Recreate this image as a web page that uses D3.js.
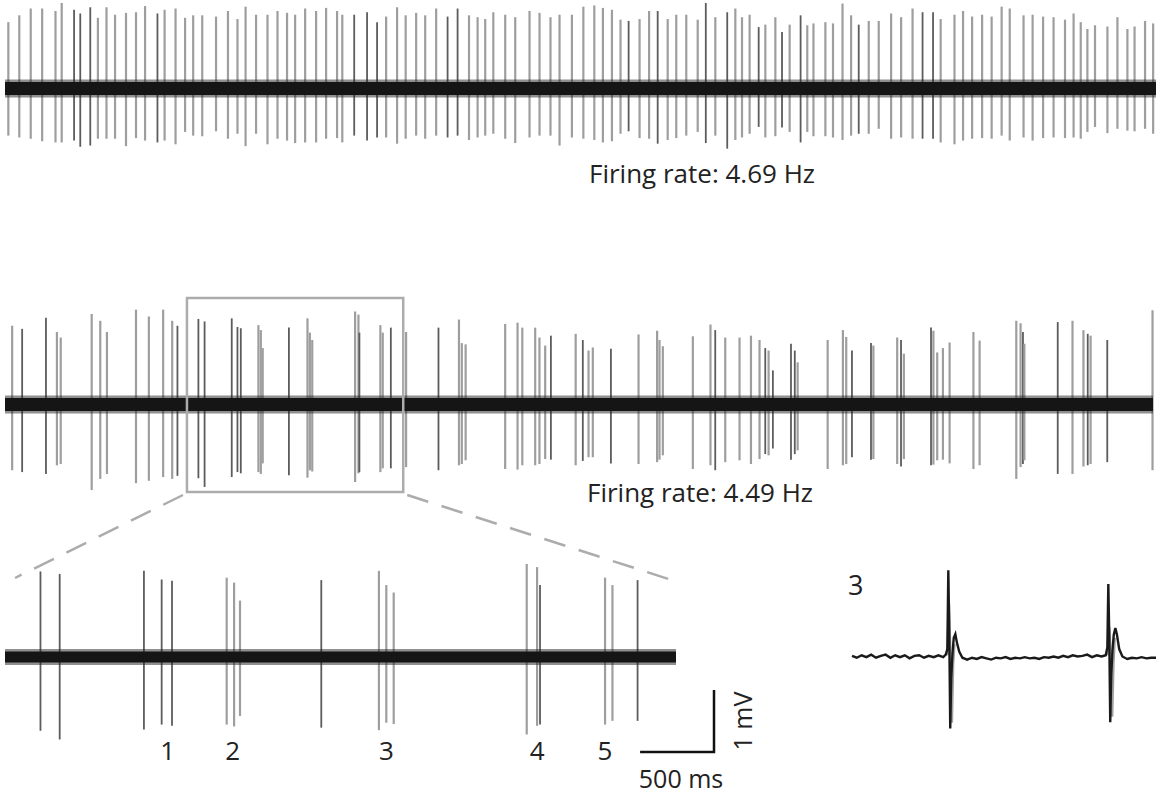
<!DOCTYPE html>
<html>
<head>
<meta charset="utf-8">
<script src="https://cdn.jsdelivr.net/npm/d3@7"></script>
<style>
  body { margin: 0; background: #fff; }
  text { font-family: "Open Sans", "Noto Sans", sans-serif; fill: #222; }
</style>
</head>
<body>
<div id="my_dataviz"></div>
<script>
// ---- recording 1 (regular firing) : spike time (s), peak (mV), trough (mV), unit
var topTimes = [0.07,0.30,0.54,0.78,1.06,1.19,1.45,1.58,1.79,1.95,2.13,2.31,2.54,2.75,2.94,3.20,3.35,3.58,3.78,3.95,
  4.14,4.43,4.68,4.88,5.05,5.27,5.51,5.72,5.92,6.09,6.30,6.53,6.74,6.97,7.08,7.33,7.60,7.81,8.00,8.23,
  8.41,8.63,8.82,9.05,9.29,9.50,9.74,9.92,10.08,10.25,10.50,10.71,11.01,11.22,11.45,11.64,11.90,12.14,12.37,12.55,
  12.74,12.92,13.09,13.32,13.52,13.70,13.91,14.09,14.30,14.54,14.71,14.91,15.16,15.33,15.47,15.63,15.82,15.96,16.17,16.31,
  16.47,16.70,16.84,16.97,17.22,17.38,17.58,17.76,17.92,18.13,18.34,18.60,18.81,19.05,19.26,19.48,19.64,19.93,20.11,20.30,
  20.51,20.71,20.92,21.09,21.38,21.57,21.79,22.01,22.25,22.43,22.58,22.72,22.88,23.14,23.35,23.56,23.71,23.93,24.10];
var topUp = [1.07,1.18,1.29,1.29,1.25,1.38,1.27,1.21,1.31,1.14,1.31,1.19,1.22,1.23,1.33,1.21,1.27,1.29,1.14,1.18,
  1.18,1.16,1.25,1.12,1.32,1.19,1.19,1.25,1.22,1.19,1.29,1.25,1.30,1.25,1.19,1.19,1.23,1.07,1.16,1.31,
  1.18,1.22,1.18,1.29,1.16,1.29,1.18,1.15,1.12,1.23,1.19,1.15,1.25,1.22,1.15,1.19,1.19,1.32,1.34,1.30,
  1.27,1.11,1.09,1.12,1.25,1.25,1.12,1.19,1.19,1.11,1.38,1.15,1.23,1.29,1.15,1.19,0.99,1.03,1.15,0.91,
  1.03,1.18,1.02,1.05,1.07,1.05,1.37,1.18,1.03,1.09,1.09,1.21,1.15,1.29,1.23,1.23,1.12,1.19,1.25,1.16,
  1.19,1.16,1.32,1.29,1.18,1.19,1.16,1.15,1.11,1.21,1.07,0.96,1.02,1.00,1.15,0.96,1.00,1.09,1.05];
var topDown = [-0.76,-0.79,-0.81,-0.85,-0.87,-0.87,-0.84,-0.94,-0.92,-0.81,-0.81,-0.81,-0.93,-0.80,-0.84,-0.87,-0.84,-0.90,-0.70,-0.76,
  -0.77,-0.69,-0.81,-0.73,-0.93,-0.73,-0.90,-0.81,-0.84,-0.88,-0.87,-0.87,-0.81,-0.80,-0.87,-0.76,-0.84,-0.79,-0.79,-0.89,
  -0.81,-0.76,-0.81,-0.76,-0.79,-0.76,-0.83,-0.79,-0.76,-0.73,-0.81,-0.88,-0.79,-0.76,-0.76,-0.92,-0.79,-0.81,-0.83,-0.87,
  -0.85,-0.73,-0.69,-0.80,-0.81,-0.89,-0.83,-0.80,-0.76,-0.70,-0.88,-0.76,-0.97,-0.83,-0.79,-0.73,-0.62,-0.79,-0.77,-0.63,
  -0.70,-0.87,-0.70,-0.77,-0.77,-0.79,-0.83,-0.76,-0.73,-0.73,-0.65,-0.81,-0.79,-0.81,-0.81,-0.81,-0.87,-0.90,-0.84,-0.81,
  -0.80,-0.81,-0.76,-0.84,-0.79,-0.84,-0.80,-0.79,-0.80,-0.79,-0.81,-0.70,-0.62,-0.72,-0.65,-0.68,-0.69,-0.65,-0.73];
var topUnit = [1,1,1,1,1,1,2,2,2,1,1,1,1,1,1,2,1,1,1,1,
  1,1,1,1,1,1,1,1,1,1,1,1,1,1,1,2,2,2,1,1,
  1,1,1,1,2,2,1,1,1,1,1,1,1,1,1,1,1,1,1,1,
  1,1,2,1,1,2,1,1,1,1,2,1,2,1,1,1,2,1,1,2,
  1,2,1,1,1,1,1,1,2,1,1,1,1,1,2,2,1,1,1,1,
  1,1,1,1,1,1,1,1,1,1,1,1,1,1,1,1,1,1,1];

// ---- recording 2 (bursting)
var midTimes = [0.15,0.36,0.86,1.09,1.17,1.82,2.00,2.14,2.75,3.02,3.32,3.51,3.62,4.06,4.19,4.76,4.88,4.95,5.32,5.37,
  5.41,5.96,6.35,6.40,6.45,7.35,7.42,7.44,7.88,7.93,8.10,8.42,9.10,9.53,9.59,9.67,10.50,10.76,10.86,11.13,
  11.22,11.34,11.46,11.98,12.13,12.25,12.34,12.72,13.30,13.69,13.74,13.81,14.44,14.81,14.91,15.12,15.42,15.66,15.84,15.96,
  16.03,16.12,16.50,16.58,16.64,17.27,17.59,17.66,17.78,18.18,18.23,18.73,18.81,18.87,19.44,19.49,19.57,19.69,19.83,20.33,
  20.46,21.23,21.32,21.37,21.40,22.10,22.41,22.64,22.73,22.79,23.14,24.09];
var midUp = [1.27,1.22,1.40,1.17,1.08,1.46,1.35,1.17,1.53,1.42,1.53,1.35,1.27,1.38,1.34,1.39,1.25,1.23,1.28,1.20,
  0.91,1.24,1.39,1.16,1.04,1.50,1.45,1.16,1.28,1.16,1.24,1.17,1.24,1.37,0.99,0.97,1.30,1.32,1.24,1.24,
  1.08,0.95,1.11,1.14,1.04,0.87,0.92,0.90,1.13,1.19,1.04,0.94,1.10,1.29,1.20,1.08,1.08,1.11,1.04,0.91,
  0.87,0.55,0.98,0.87,0.68,1.04,1.20,1.09,0.87,0.99,0.95,1.08,1.04,0.82,1.24,1.19,0.84,0.91,1.00,1.17,
  1.03,1.35,1.31,1.17,0.98,1.33,1.35,1.20,1.14,1.11,1.04,1.52];
var midDown = [-1.06,-1.09,-1.12,-0.98,-0.96,-1.38,-1.20,-1.12,-1.27,-1.23,-1.17,-1.20,-1.15,-1.19,-1.33,-1.17,-1.09,-1.11,-1.09,-1.12,
  -0.95,-1.14,-1.18,-1.06,-1.08,-1.25,-1.11,-1.09,-1.09,-1.03,-1.03,-1.01,-1.06,-0.98,-0.96,-0.90,-1.04,-1.05,-0.98,-0.98,
  -0.96,-0.88,-0.89,-0.98,-0.91,-0.85,-0.85,-0.95,-0.96,-0.93,-0.89,-0.82,-1.04,-0.98,-1.06,-0.93,-0.90,-0.96,-0.88,-0.80,
  -0.82,-0.71,-0.89,-0.80,-0.74,-1.04,-0.98,-0.96,-0.85,-0.89,-0.88,-0.96,-1.00,-0.88,-0.98,-0.97,-0.90,-0.89,-0.95,-1.04,
  -0.98,-1.20,-1.01,-0.96,-0.90,-1.12,-1.12,-1.00,-0.98,-0.96,-0.93,-1.06];
var midUnit = [1,2,2,1,1,1,1,1,1,1,1,1,2,2,2,2,2,2,1,1,
  1,2,1,1,1,1,1,2,1,1,2,1,2,1,1,1,1,1,1,1,
  1,1,2,1,2,1,1,2,1,1,1,1,1,1,2,1,1,1,1,2,
  1,2,2,2,1,1,1,1,2,2,1,1,2,1,2,1,1,1,1,1,
  1,1,1,2,1,2,1,1,2,1,2,1];

var firingRates = ["4.69", "4.49"];
var zoomWindow = [3.82, 8.36];
var burstLabels = ["1", "2", "3", "4", "5"];
var burstTimes = [4.92, 5.36, 6.40, 7.42, 7.88];

// ---- burst 3, expanded (ms, mV)
var waveT = [0,1.5,3,4.5,6,7.5,9,10.5,12,13.5,15,16.5,18,19.5,21,22.5,24,25.5,27,28.5,
  29.3,29.8,30.1,30.4,30.7,31.0,31.4,31.8,32.3,32.8,33.5,34.5,36,37.5,39,40.5,42,43.5,45,46.5,
  48,49.5,51,52.5,54,55.5,57,58.5,60,61.5,63,64.5,66,67.5,69,70.5,72,73.5,75,76.5,
  78,79.3,79.8,80.1,80.4,80.7,81.0,81.4,81.8,82.3,82.8,83.5,84.5,86,87.5,89,90.5,92,93.5,95];
var waveV = [0.01,-0.02,0.02,-0.01,0.03,-0.02,0.01,0.03,-0.02,0.02,-0.01,0.02,-0.03,0.01,0.02,-0.02,0.01,-0.01,0.02,-0.01,
  0.03,0.12,1.39,0.35,-1.16,-0.35,0.05,0.30,0.36,0.22,0.08,-0.02,-0.05,-0.02,-0.04,-0.01,-0.03,-0.05,-0.02,-0.03,
  -0.01,-0.04,-0.02,-0.03,-0.01,-0.03,-0.02,-0.04,-0.01,-0.02,0.00,-0.02,0.01,-0.01,0.02,0.00,0.01,0.03,-0.01,0.02,
  0.00,0.02,0.15,1.17,0.30,-1.06,-0.30,0.10,0.35,0.46,0.35,0.12,0.00,-0.04,-0.02,-0.03,-0.01,-0.03,-0.02,-0.02];
var overlayT = [29.8,30.3,30.7,31.2,31.6,32.0, 79.8,80.4,80.8,81.3,81.7,82.1];
var overlayV = [0.02,0.86,0.10,-1.07,-0.10,0.20, 0.02,0.48,0.05,-0.97,-0.10,0.30];

var svg = d3.select("#my_dataviz")
  .append("svg")
    .attr("width", 1156)
    .attr("height", 797);

function zipSpikes(times, up, down, unit) {
  return times.map(function(t, i) { return {t: t, up: up[i], down: down[i], unit: unit[i]}; });
}

var unitColor = d3.scaleOrdinal().domain([1, 2]).range(["#9e9e9e", "#5c5c5c"]);
var unitWidth = d3.scaleOrdinal().domain([1, 2]).range([2.2, 1.8]);

function drawTrace(x, y, spikes, domain, band) {
  var g = svg.append("g");
  g.selectAll("line.spike")
    .data(spikes)
    .enter()
    .append("line")
      .attr("class", "spike")
      .attr("x1", function(d) { return x(d.t); })
      .attr("x2", function(d) { return x(d.t); })
      .attr("y1", function(d) { return y(d.up); })
      .attr("y2", function(d) { return y(d.down); })
      .attr("stroke", function(d) { return unitColor(d.unit); })
      .attr("stroke-width", function(d) { return unitWidth(d.unit); });
  // noisy baseline drawn as a band
  g.append("line")
    .attr("x1", x(domain[0])).attr("x2", x(domain[1]))
    .attr("y1", y(0)).attr("y2", y(0))
    .attr("stroke", "#222").attr("stroke-opacity", 0.5)
    .attr("stroke-width", band + 5);
  g.append("line")
    .attr("x1", x(domain[0])).attr("x2", x(domain[1]))
    .attr("y1", y(0)).attr("y2", y(0))
    .attr("stroke", "#151515")
    .attr("stroke-width", band);
  return g;
}

var mvPx = 62;
function yAt(center) {
  return d3.scaleLinear().domain([-1, 1]).range([center + mvPx, center - mvPx]);
}

// top trace
var xTop = d3.scaleLinear().domain([0, 24.16]).range([5, 1156]);
var yTop = yAt(88.5);
drawTrace(xTop, yTop, zipSpikes(topTimes, topUp, topDown, topUnit), [0, 24.16], 13);

svg.append("text")
  .attr("x", 702).attr("y", 183)
  .attr("text-anchor", "middle")
  .style("font-size", "26px")
  .text("Firing rate: " + firingRates[0] + " Hz");

// middle trace
var xMid = d3.scaleLinear().domain([0, 24.1]).range([5, 1153]);
var yMid = yAt(404.5);
var midSpikes = zipSpikes(midTimes, midUp, midDown, midUnit);
drawTrace(xMid, yMid, midSpikes, [0, 24.1], 13);

svg.append("text")
  .attr("x", 700).attr("y", 502)
  .attr("text-anchor", "middle")
  .style("font-size", "26px")
  .text("Firing rate: " + firingRates[1] + " Hz");

// zoom box
svg.append("rect")
  .attr("x", xMid(zoomWindow[0]))
  .attr("y", 298)
  .attr("width", xMid(zoomWindow[1]) - xMid(zoomWindow[0]))
  .attr("height", 194)
  .attr("fill", "none")
  .attr("stroke", "#acacac")
  .attr("stroke-width", 2.5);

// expanded trace
var xZoom = d3.scaleLinear().domain(zoomWindow).range([5, 676]);
var yZoom = yAt(657);
var zoomSpikes = midSpikes.filter(function(d) { return d.t >= zoomWindow[0] && d.t <= zoomWindow[1]; });
drawTrace(xZoom, yZoom, zoomSpikes, zoomWindow, 11);

// dashed connectors
svg.append("line")
  .attr("x1", xMid(zoomWindow[0]) - 4).attr("y1", 495)
  .attr("x2", xZoom(zoomWindow[0]) + 10).attr("y2", 578)
  .attr("stroke", "#acacac").attr("stroke-width", 2.5)
  .attr("stroke-dasharray", "22,14");
svg.append("line")
  .attr("x1", xMid(zoomWindow[1]) + 4).attr("y1", 495)
  .attr("x2", xZoom(zoomWindow[1]) + 2).attr("y2", 582)
  .attr("stroke", "#acacac").attr("stroke-width", 2.5)
  .attr("stroke-dasharray", "22,14");

svg.selectAll("text.burst")
  .data(burstLabels)
  .enter()
  .append("text")
    .attr("class", "burst")
    .attr("x", function(d, i) { return xZoom(burstTimes[i]); })
    .attr("y", 760)
    .attr("text-anchor", "middle")
    .style("font-size", "26px")
    .text(function(d) { return d; });

// scale bar: 500 ms x 1 mV
var sbX = 714, sbY = 752;
var sbLen = xZoom(zoomWindow[0] + 0.5) - xZoom(zoomWindow[0]);
var sbH = yZoom(0) - yZoom(1);
svg.append("path")
  .attr("d", "M" + (sbX - sbLen) + "," + sbY + "H" + sbX + "V" + (sbY - sbH))
  .attr("fill", "none")
  .attr("stroke", "#111")
  .attr("stroke-width", 2.5);
svg.append("text")
  .attr("x", sbX - sbLen / 2 + 4).attr("y", 788)
  .attr("text-anchor", "middle")
  .style("font-size", "25px")
  .text("500 ms");
svg.append("text")
  .attr("transform", "translate(" + (sbX + 38) + "," + (sbY - sbH / 2) + ") rotate(-90)")
  .attr("text-anchor", "middle")
  .style("font-size", "25px")
  .text("1 mV");

// burst 3 waveform
var xWave = d3.scaleLinear().domain([0, 95]).range([852, 1156]);
var yWave = yAt(656.5);
var waveLine = d3.line()
  .x(function(d) { return xWave(d[0]); })
  .y(function(d) { return yWave(d[1]); });
var overlay = overlayT.map(function(t, i) { return [t, overlayV[i]]; });
svg.append("path")
  .attr("d", waveLine(overlay.slice(0, 6)))
  .attr("fill", "none").attr("stroke", "#a0a0a0").attr("stroke-width", 2.5);
svg.append("path")
  .attr("d", waveLine(overlay.slice(6)))
  .attr("fill", "none").attr("stroke", "#a0a0a0").attr("stroke-width", 2.5);
svg.append("path")
  .attr("d", waveLine(waveT.map(function(t, i) { return [t, waveV[i]]; })))
  .attr("fill", "none")
  .attr("stroke", "#1a1a1a")
  .attr("stroke-width", 2.4);

svg.append("text")
  .attr("x", 848).attr("y", 595)
  .style("font-size", "27px")
  .text(burstLabels[2]);
</script>
</body>
</html>
